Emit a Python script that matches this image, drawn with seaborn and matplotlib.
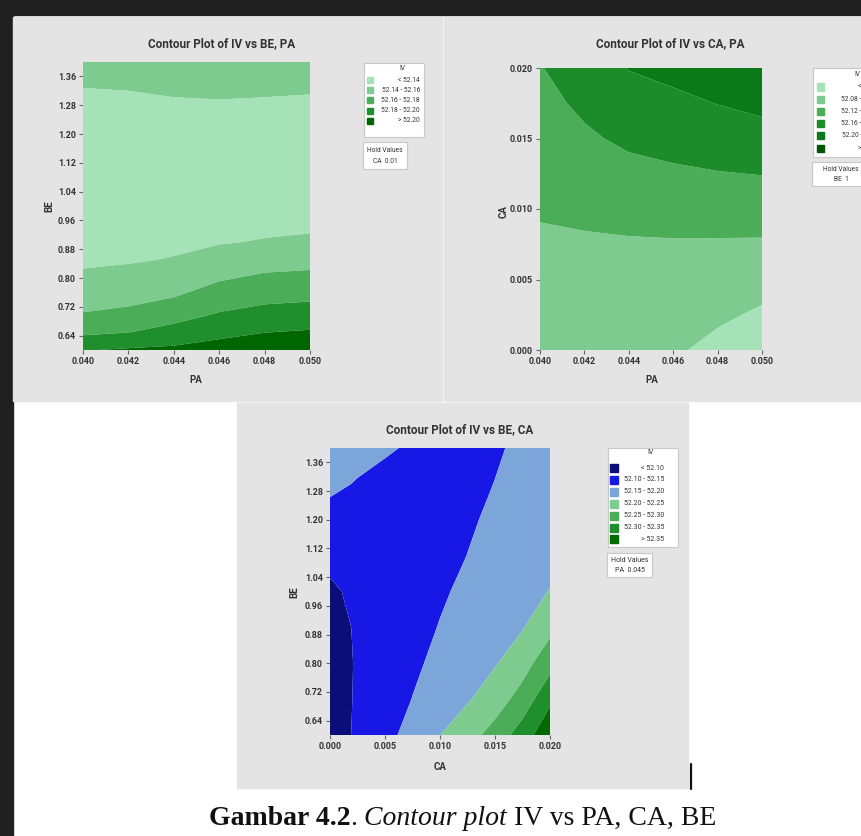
import numpy as np
import matplotlib
matplotlib.use("Agg")
import matplotlib.pyplot as plt
from matplotlib.patches import Rectangle
from matplotlib.lines import Line2D
import seaborn as sns

# ---------------- data ----------------
# Panel 1: IV vs BE, PA  (CA held at 0.01); rows = BE, columns = PA
pa_values = [0.040, 0.042, 0.044, 0.046, 0.048, 0.050]
be_values_1 = [0.60, 0.65, 0.70, 0.75, 0.80, 0.85, 0.90, 0.95, 1.00, 1.10, 1.20, 1.30, 1.40]
iv_be_pa = [
    [52.1990, 52.2023, 52.2041, 52.2080, 52.2125, 52.2145],
    [52.1758, 52.1794, 52.1869, 52.1947, 52.1995, 52.2016],
    [52.1609, 52.1645, 52.1720, 52.1813, 52.1865, 52.1886],
    [52.1515, 52.1539, 52.1591, 52.1694, 52.1744, 52.1762],
    [52.1425, 52.1452, 52.1500, 52.1579, 52.1633, 52.1649],
    [52.1377, 52.1386, 52.1409, 52.1474, 52.1522, 52.1539],
    [52.1345, 52.1352, 52.1368, 52.1388, 52.1411, 52.1430],
    [52.1314, 52.1318, 52.1332, 52.1349, 52.1361, 52.1367],
    [52.1282, 52.1284, 52.1297, 52.1309, 52.1317, 52.1321],
    [52.1260, 52.1265, 52.1245, 52.1230, 52.1230, 52.1230],
    [52.1310, 52.1315, 52.1310, 52.1300, 52.1300, 52.1295],
    [52.1373, 52.1382, 52.1398, 52.1404, 52.1398, 52.1391],
    [52.1470, 52.1472, 52.1490, 52.1500, 52.1495, 52.1480],
]
levels_1 = [52.14, 52.16, 52.18, 52.20]
hold_1 = ["Hold Values", "CA  0.01"]

# Panel 2: IV vs CA, PA  (BE held at 1); rows = CA, columns = PA
ca_values_2 = [0.0, 0.0025, 0.005, 0.0075, 0.010, 0.0125, 0.015, 0.0175, 0.020]
iv_ca_pa = [
    [52.0900, 52.0890, 52.0880, 52.0860, 52.0680, 52.0530],
    [52.0982, 52.0979, 52.0975, 52.0964, 52.0871, 52.0741],
    [52.1065, 52.1068, 52.1070, 52.1067, 52.1018, 52.0950],
    [52.1147, 52.1157, 52.1166, 52.1171, 52.1165, 52.1158],
    [52.1232, 52.1271, 52.1314, 52.1344, 52.1365, 52.1382],
    [52.1319, 52.1408, 52.1493, 52.1544, 52.1583, 52.1610],
    [52.1407, 52.1545, 52.1669, 52.1733, 52.1796, 52.1854],
    [52.1495, 52.1668, 52.1841, 52.1919, 52.2008, 52.2094],
    [52.1583, 52.1780, 52.2014, 52.2100, 52.2220, 52.2330],
]
levels_2 = [52.08, 52.12, 52.16, 52.20, 52.24]
hold_2 = ["Hold Values", "BE  1"]

# Panel 3: IV vs BE, CA  (PA held at 0.045); rows = BE, columns = CA
ca_values_3 = [0.0, 0.0025, 0.005, 0.0075, 0.010, 0.0125, 0.015, 0.0175, 0.020]
be_values_3 = [0.60, 0.70, 0.80, 0.90, 1.00, 1.10, 1.20, 1.30, 1.40]
iv_be_ca = [
    [52.080, 52.1060, 52.1357, 52.1671, 52.1995, 52.2305, 52.2688, 52.3250, 52.3875],
    [52.080, 52.1046, 52.1278, 52.1509, 52.1731, 52.1954, 52.2263, 52.2694, 52.3400],
    [52.080, 52.1038, 52.1230, 52.1423, 52.1607, 52.1786, 52.1964, 52.2303, 52.2820],
    [52.085, 52.1044, 52.1203, 52.1361, 52.1518, 52.1669, 52.1819, 52.1970, 52.2367],
    [52.095, 52.1066, 52.1194, 52.1321, 52.1449, 52.1583, 52.1722, 52.1861, 52.2015],
    [52.108, 52.1060, 52.1090, 52.1180, 52.1360, 52.1505, 52.1620, 52.1740, 52.1870],
    [52.133, 52.1280, 52.1260, 52.1280, 52.1350, 52.1450, 52.1570, 52.1680, 52.1780],
    [52.160, 52.1470, 52.1400, 52.1370, 52.1380, 52.1430, 52.1505, 52.1620, 52.1720],
    [52.185, 52.1650, 52.1540, 52.1460, 52.1420, 52.1430, 52.1470, 52.1550, 52.1650],
]
levels_3 = [52.10, 52.15, 52.20, 52.25, 52.30, 52.35]
hold_3 = ["Hold Values", "PA  0.045"]

be_ticks = [0.64, 0.72, 0.80, 0.88, 0.96, 1.04, 1.12, 1.20, 1.28, 1.36]
pa_ticks = [0.040, 0.042, 0.044, 0.046, 0.048, 0.050]
ca_ticks_2 = [0.000, 0.005, 0.010, 0.015, 0.020]

greens_5 = ["#a6e2b8", "#7dcb8e", "#4cad58", "#1f8f2d", "#006600"]
greens_6 = ["#a6e2b8", "#7dcb8e", "#4cad58", "#1c8c2b", "#0a7a18", "#005500"]
blue_green_7 = ["#0b0d78", "#1818e6", "#7ca6d9", "#7dcb8e", "#4cad58", "#1f8f2d", "#006a00"]

# ---------------- figure ----------------
sns.set_theme(style="white")
W, H = 861, 836
fig = plt.figure(figsize=(W / 100, H / 100), dpi=100, facecolor="white")

UI_FONT = ["Liberation Sans Narrow", "Roboto", "DejaVu Sans"]
TXT = "#333333"


def fx(x):
    return x / W


def fy(y):
    return 1 - y / H


def rect_px(x0, y0, x1, y1, z=-5, **kw):
    fig.patches.append(Rectangle((fx(x0), fy(y1)), (x1 - x0) / W, (y1 - y0) / H,
                                 transform=fig.transFigure, figure=fig, zorder=z, **kw))


def text_px(x, y, s, **kw):
    kw.setdefault("family", UI_FONT)
    kw.setdefault("color", TXT)
    return fig.text(fx(x), fy(y), s, **kw)


# page background: viewer frame and grey Minitab panels
rect_px(0, 0, W, 15, color="#202020")
rect_px(0, 0, 13, H, color="#202020")
rect_px(13, 17, 442, 401, color="#e4e4e4")
rect_px(444, 17, W, 401, color="#e4e4e4")
rect_px(237, 403, 688, 788, color="#e4e4e4")


def fmt_level(v):
    return f"{v:.2f}"


def contour_panel(box, xs, ys, z, levels, colors, xticks, yticks, xlabel, ylabel, title,
                  title_xy, xlabel_xy, ylabel_xy, xfmt, yfmt):
    x0, y0, x1, y1 = box
    ax = fig.add_axes([fx(x0), fy(y1), (x1 - x0) / W, (y1 - y0) / H])
    z = np.asarray(z)
    bounds = [min(z.min(), levels[0]) - 1] + list(levels) + [max(z.max(), levels[-1]) + 1]
    ax.contourf(xs, ys, z, levels=bounds, colors=colors, antialiased=True)
    ax.set_xlim(xs[0], xs[-1])
    ax.set_ylim(ys[0], ys[-1])
    sns.despine(ax=ax, left=True, bottom=True)
    ax.set_xticks(xticks)
    ax.set_yticks(yticks)
    ax.set_xticklabels([xfmt.format(t) for t in xticks])
    ax.set_yticklabels([yfmt.format(t) for t in yticks])
    ax.tick_params(axis="both", length=3, width=0.8, pad=2, color="#666666",
                   labelsize=6.5, labelcolor=TXT, direction="out", bottom=True, left=True)
    for lab in ax.get_xticklabels() + ax.get_yticklabels():
        lab.set_family(UI_FONT)
        lab.set_fontweight("bold")
    text_px(*title_xy, title, fontsize=8.5, fontweight="bold", ha="center", va="center")
    text_px(*xlabel_xy, xlabel, fontsize=7, fontweight="bold", ha="center", va="center")
    text_px(*ylabel_xy, ylabel, fontsize=7, fontweight="bold", ha="center", va="center",
            rotation=90)
    return ax


def legend_box(box, levels, colors, header_y, row_y0, row_dy, sq, sq_x, text_x, hold_box, hold,
               fs=4.8):
    x0, y0, x1, y1 = box
    rect_px(x0, y0, x1, y1, z=2, facecolor="white", edgecolor="#c8c8c8", linewidth=0.8)
    text_px((x0 + x1) / 2 + 8, header_y, "IV", fontsize=fs, ha="center", va="center")
    labels = ["< " + fmt_level(levels[0])]
    labels += [fmt_level(a) + " - " + fmt_level(b) for a, b in zip(levels[:-1], levels[1:])]
    labels += ["> " + fmt_level(levels[-1])]
    for i, (c, lab) in enumerate(zip(colors, labels)):
        yy = row_y0 + i * row_dy
        rect_px(sq_x, yy - sq / 2, sq_x + sq, yy + sq / 2, z=3, color=c)
        text_px(text_x, yy, lab, fontsize=fs, ha="right", va="center")
    hx0, hy0, hx1, hy1 = hold_box
    rect_px(hx0, hy0, hx1, hy1, z=2, facecolor="white", edgecolor="#c8c8c8", linewidth=0.8)
    hx = (hx0 + hx1) / 2
    text_px(hx, hy0 + (hy1 - hy0) * 0.3, hold[0], fontsize=fs, ha="center", va="center")
    text_px(hx, hy0 + (hy1 - hy0) * 0.72, hold[1], fontsize=fs, ha="center", va="center")


# Panel 1
contour_panel((83, 62, 310, 350), pa_values, be_values_1, iv_be_pa, levels_1, greens_5,
              pa_ticks, be_ticks, "PA", "BE", "Contour Plot of IV vs BE, PA",
              (222, 44), (196, 380), (49, 206), "{:.3f}", "{:.2f}")
legend_box((364, 63, 424, 137), levels_1, greens_5, 69, 80, 10.2, 6, 367, 420,
           (363, 142, 407, 169), hold_1)

# Panel 2
contour_panel((540, 68, 762, 350), pa_values, ca_values_2, iv_ca_pa, levels_2, greens_6,
              pa_ticks, ca_ticks_2, "PA", "CA", "Contour Plot of IV vs CA, PA",
              (670, 44), (652, 380), (504, 211), "{:.3f}", "{:.3f}")
legend_box((813, 68, 885, 157), levels_2, greens_6, 75, 87, 12.2, 7, 817, 880,
           (812, 162, 870, 186), hold_2)

# Panel 3
contour_panel((330, 448, 550, 735), ca_values_3, be_values_3, iv_be_ca, levels_3,
              blue_green_7, ca_ticks_2, be_ticks, "CA", "BE", "Contour Plot of IV vs BE, CA",
              (460, 430), (440, 767), (294, 592), "{:.3f}", "{:.2f}")
legend_box((608, 448, 678, 547), levels_3, blue_green_7, 453, 468, 11.9, 8, 610, 664,
           (607, 553, 652, 577), hold_3, fs=5.0)

# text cursor mark beside the lower panel
fig.add_artist(Line2D([fx(691), fx(691)], [fy(764), fy(789)], transform=fig.transFigure,
                      color="#111111", linewidth=1.6))

# caption with mixed bold / italic / roman runs
parts = [("Gambar 4.2", "bold", "normal"), (".", "normal", "normal"),
         (" Contour plot", "normal", "italic"), (" IV vs PA, CA, BE", "normal", "normal")]
renderer = fig.canvas.get_renderer()
runs = []
for s, w, st in parts:
    t = fig.text(0, fy(825), s, family=["Liberation Serif", "DejaVu Serif"], fontsize=20,
                 fontweight=w, fontstyle=st, color="#111111", va="baseline", ha="left")
    runs.append((t, t.get_window_extent(renderer).width))
total = sum(w for _, w in runs)
x = 462.5 - total / 2
for t, w in runs:
    t.set_x(fx(x))
    x += w

fig.savefig("out.png", dpi=100, facecolor="white")
